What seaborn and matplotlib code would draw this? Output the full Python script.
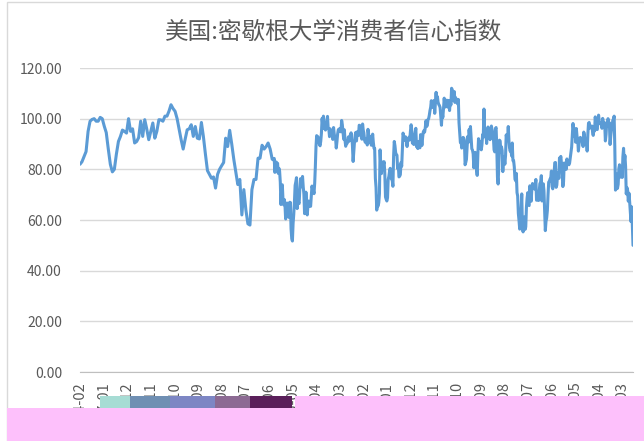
import pandas as pd
import matplotlib
matplotlib.use('Agg')
import matplotlib.pyplot as plt
import seaborn as sns
from matplotlib.patches import Rectangle

# 标题
title = '美国:密歇根大学消费者信心指数'

# 1954-1977 季度数据（2、5、8、11月）
quarterly_1954_1977 = [
    82, 83, 85, 87,
    95, 99, 99.7, 100,
    99, 99, 100.5, 100,
    97, 94.5, 88, 82,
    79, 80, 86, 91,
    93, 95.5, 95, 94.3,
    100, 95, 96, 90.4,
    91, 92.5, 99, 93,
    99.6, 96, 91.7, 95,
    98.3, 92.3, 95, 99.6,
    99.5, 99, 101, 101,
    103, 105.5, 104, 102.9,
    100, 96, 91.7, 88,
    92, 95.6, 96, 97.6,
    93, 96.9, 92.3, 92,
    98.5, 93, 86, 79.5,
    78, 76.5, 77, 72.6,
    78, 80, 81.4, 82.7,
    92.3, 89, 95.4, 90,
    84, 79, 74, 76,
    62, 72, 64, 58.5,
    58, 72, 76, 76,
    84.4, 84.4, 89.5, 88,
    89, 90.4, 88, 84,
]

# 1978 年起月度数据
monthly_1978_1989 = [
    83.7, 84.3, 78.8, 81.6, 82.9, 80.0, 82.4, 78.4, 80.4, 79.3, 75.0, 66.1,
    72.1, 73.9, 68.4, 66.0, 68.1, 65.8, 60.4, 64.5, 66.7, 62.1, 63.3, 61.0,
    67.0, 66.9, 56.5, 52.7, 51.7, 58.7, 62.3, 67.3, 73.7, 75.0, 76.7, 64.5,
    71.4, 66.9, 66.5, 72.4, 76.3, 73.1, 74.1, 77.2, 73.1, 70.3, 62.5, 64.3,
    71.0, 66.5, 62.0, 65.5, 67.5, 65.7, 65.4, 65.4, 69.3, 73.4, 72.1, 71.9,
    70.4, 74.6, 80.8, 89.1, 93.3, 92.2, 92.8, 90.9, 89.9, 89.3, 91.1, 94.2,
    100.1, 97.4, 101.0, 96.1, 98.1, 95.5, 96.6, 99.1, 100.9, 96.3, 95.7, 92.9,
    96.0, 93.7, 93.7, 94.6, 91.8, 96.5, 94.0, 92.4, 92.1, 88.4, 90.9, 93.9,
    95.6, 95.9, 95.1, 96.2, 94.8, 99.3, 97.7, 94.9, 91.9, 95.6, 91.4, 89.1,
    90.4, 90.2, 90.8, 92.8, 91.1, 91.5, 93.7, 94.4, 93.6, 89.3, 83.1, 86.8,
    90.8, 91.6, 94.6, 91.2, 94.8, 94.7, 93.4, 97.4, 97.3, 94.1, 93.0, 91.9,
    97.9, 95.4, 94.3, 91.5, 90.7, 90.6, 92.0, 89.6, 95.8, 93.9, 90.9, 90.5,
]
monthly_1990_1999 = [
    93.0, 89.5, 91.3, 93.9, 90.6, 88.3, 88.2, 76.4, 72.8, 63.9, 66.0, 65.5,
    66.8, 70.4, 87.7, 81.8, 78.3, 82.1, 82.9, 82.0, 83.0, 78.3, 69.1, 68.2,
    67.5, 68.8, 76.0, 77.2, 79.2, 80.4, 76.6, 76.1, 75.6, 73.3, 85.3, 91.0,
    89.3, 86.6, 85.9, 85.6, 80.3, 81.5, 77.0, 77.3, 77.9, 82.7, 81.2, 88.2,
    94.3, 93.2, 91.5, 92.6, 92.8, 91.2, 89.0, 91.7, 91.5, 92.7, 91.6, 95.1,
    97.6, 95.1, 90.3, 92.5, 89.8, 92.7, 94.4, 96.2, 88.9, 90.2, 88.2, 91.0,
    89.3, 88.5, 93.7, 92.7, 89.4, 92.4, 94.7, 95.3, 94.7, 96.5, 99.2, 96.9,
    97.4, 99.7, 100.0, 101.4, 103.2, 104.5, 107.1, 104.4, 106.0, 105.6, 107.2, 102.1,
    106.6, 110.4, 106.5, 108.7, 106.5, 105.6, 105.2, 104.4, 100.9, 97.4, 102.7, 100.5,
    103.9, 108.1, 105.7, 104.6, 106.8, 107.3, 106.0, 104.5, 107.2, 103.2, 107.2, 105.4,
]
monthly_2000_2009 = [
    112.0, 111.3, 107.1, 109.2, 110.7, 106.4, 108.3, 107.3, 106.8, 105.8, 107.6, 98.4,
    94.7, 90.6, 91.5, 88.4, 92.0, 92.6, 92.4, 91.5, 81.8, 82.7, 83.9, 88.8,
    93.0, 90.7, 95.7, 93.0, 96.9, 92.4, 88.1, 87.6, 86.1, 80.6, 84.2, 86.7,
    82.4, 79.9, 77.6, 86.0, 92.1, 89.7, 90.9, 89.3, 87.7, 89.6, 93.7, 92.6,
    103.8, 94.4, 95.8, 94.2, 90.2, 95.6, 96.7, 95.9, 94.2, 91.7, 92.8, 97.1,
    95.5, 94.1, 92.6, 87.7, 86.9, 96.0, 96.5, 89.1, 76.9, 74.2, 81.6, 91.5,
    91.2, 86.7, 88.9, 87.4, 79.1, 84.9, 84.7, 82.0, 85.4, 93.6, 92.1, 91.7,
    96.9, 91.3, 88.4, 87.1, 88.3, 85.3, 90.4, 83.4, 83.4, 80.9, 76.1, 75.5,
    78.4, 70.8, 69.5, 62.6, 59.8, 56.4, 61.2, 63.0, 70.3, 57.6, 55.3, 60.1,
    61.2, 56.3, 57.3, 65.1, 68.7, 70.8, 66.0, 65.7, 73.5, 70.6, 67.4, 72.5,
]
monthly_2010_2022 = [
    74.4, 73.6, 73.6, 72.2, 73.6, 76.0, 67.8, 68.9, 68.2, 67.7, 71.6, 74.5,
    74.2, 77.5, 67.5, 69.8, 74.3, 71.5, 63.7, 55.8, 59.5, 60.8, 63.7, 69.9,
    75.0, 75.3, 76.2, 76.4, 79.3, 73.2, 72.3, 74.3, 78.3, 82.6, 82.7, 72.9,
    73.8, 77.6, 78.6, 76.4, 84.5, 84.1, 85.1, 82.1, 77.5, 73.2, 75.1, 82.5,
    81.2, 81.6, 80.0, 84.1, 81.9, 82.5, 81.8, 82.5, 84.6, 86.9, 88.8, 93.6,
    98.1, 95.4, 93.0, 95.9, 90.7, 96.1, 93.1, 91.9, 87.2, 90.0, 91.3, 92.6,
    92.0, 91.7, 91.0, 89.0, 94.7, 93.5, 90.0, 89.8, 91.2, 87.2, 93.8, 98.2,
    98.5, 96.3, 96.9, 97.0, 97.1, 95.0, 93.4, 96.8, 95.1, 100.7, 98.5, 95.9,
    95.7, 99.7, 101.4, 98.8, 98.0, 98.2, 97.9, 96.2, 100.1, 98.6, 97.5, 98.3,
    91.2, 93.8, 98.4, 97.2, 100.0, 98.2, 98.4, 89.8, 93.2, 95.5, 96.8, 99.3,
    99.8, 101.0, 89.1, 71.8, 72.3, 78.1, 72.5, 74.1, 80.4, 81.8, 76.9, 80.7,
    79.0, 76.8, 84.9, 88.3, 82.9, 85.5, 81.2, 70.3, 72.8, 71.7, 67.4, 70.6,
    67.2, 62.8, 59.4, 65.2, 58.4, 50.0,
]

# x 轴标签（每 35 个月一个）
tick_labels = [
    '1954-02', '1957-01', '1959-12', '1962-11', '1965-10', '1968-09',
    '1971-08', '1974-07', '1977-06', '1980-05', '1983-04', '1986-03',
    '1989-02', '1992-01', '1994-12', '1997-11', '2000-10', '2003-09',
    '2006-08', '2009-07', '2012-06', '2015-05', '2018-04', '2021-03',
]
y_ticks = [0, 20, 40, 60, 80, 100, 120]

# 拼接数据
monthly = monthly_1978_1989 + monthly_1990_1999 + monthly_2000_2009 + monthly_2010_2022
q_dates = pd.date_range('1954-02-01', periods=len(quarterly_1954_1977), freq='3MS')
m_dates = pd.date_range('1978-01-01', periods=len(monthly), freq='MS')
df = pd.DataFrame({
    'date': list(q_dates) + list(m_dates),
    'value': quarterly_1954_1977 + monthly,
})

# 绘图
sns.set_style('white')
plt.rcParams['font.family'] = ['Noto Sans CJK SC', 'DejaVu Sans']
plt.rcParams['axes.unicode_minus'] = False

fig = plt.figure(figsize=(6.44, 4.41), dpi=100)
ax = fig.add_axes([80 / 644, 1 - 372 / 441, (633 - 80) / 644, (372 - 68) / 441])

sns.lineplot(data=df, x='date', y='value', ax=ax, color='#5b9bd5', linewidth=2.2)

ax.set_ylim(0, 120)
ax.set_yticks(y_ticks)
ax.set_yticklabels([f'{v:.2f}' for v in y_ticks])
ax.yaxis.grid(True, color='#d9d9d9', linewidth=1)
ax.set_axisbelow(True)

ax.set_xlim(df['date'].iloc[0], df['date'].iloc[-1])
ax.set_xticks(pd.to_datetime(tick_labels))
ax.set_xticklabels(tick_labels, rotation=90)
ax.set_xlabel('')
ax.set_ylabel('')

for s in ['left', 'top', 'right']:
    ax.spines[s].set_visible(False)
ax.spines['bottom'].set_color('#bfbfbf')
ax.tick_params(axis='x', length=4, color='#bfbfbf', labelsize=10.5, labelcolor='#595959', pad=3)
ax.tick_params(axis='y', length=0, labelsize=10, labelcolor='#595959', pad=13)

fig.text(334 / 644, 1 - 32 / 441, title, ha='center', va='center', fontsize=17,
         color='#595959', fontweight='light')

# 图表外框
fig.add_artist(Rectangle((7 / 644, -0.1), 1.2, 1 - 2 / 441 + 0.1, transform=fig.transFigure,
                         fill=False, edgecolor='#d9d9d9', linewidth=1))

# 底部被遮挡的区域
pink = '#fdc0fb'
fig.add_artist(Rectangle((7 / 644, 0), 1, 1 - 408 / 441, transform=fig.transFigure,
                         facecolor=pink, edgecolor='none', zorder=10))
fig.add_artist(Rectangle((295 / 644, 0), 1, 1 - 396 / 441, transform=fig.transFigure,
                         facecolor=pink, edgecolor='none', zorder=10))
blocks = [(100, 130, '#a6dcd4'), (130, 170, '#6f8fb3'), (170, 215, '#7d86c4'),
          (215, 250, '#8c6a93'), (250, 292, '#5a1f5a')]
for x0, x1, c in blocks:
    fig.add_artist(Rectangle((x0 / 644, 1 - 408 / 441), (x1 - x0) / 644, 12 / 441,
                             transform=fig.transFigure, facecolor=c, edgecolor='none', zorder=10))

fig.savefig('out.png', dpi=100)
